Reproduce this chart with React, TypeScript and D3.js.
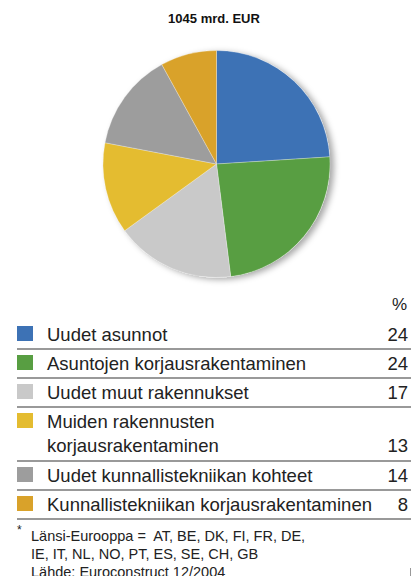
import { useMemo } from 'react'
import * as d3 from 'd3'

// data
const categories = [
  ['Uudet asunnot'],
  ['Asuntojen korjausrakentaminen'],
  ['Uudet muut rakennukset'],
  ['Muiden rakennusten', 'korjausrakentaminen'],
  ['Uudet kunnallistekniikan kohteet'],
  ['Kunnallistekniikan korjausrakentaminen']
]
const shares = [24, 24, 17, 13, 14, 8]
const colors = ['#3d72b5', '#589e42', '#c9c9c9', '#e4bc30', '#9d9d9d', '#d9a22a']
const title = '1045 mrd. EUR'
const footnotes = [
  'Länsi-Eurooppa =  AT, BE, DK, FI, FR, DE,',
  'IE, IT, NL, NO, PT, ES, SE, CH, GB',
  'Lähde: Euroconstruct 12/2004'
]

const FONT = '"Liberation Sans", Arial, Helvetica, sans-serif'

export default function App() {
  const W = 420
  const H = 576
  const cx = 216.5
  const cy = 164
  const r = 113.5

  const arcs = useMemo(() => {
    const pie = d3.pie<number>().sort(null).value(d => d)
    return pie(shares)
  }, [])
  const arcGen = d3.arc<d3.PieArcDatum<number>>().innerRadius(0).outerRadius(r)

  // legend rows: top of first row, row height grows with wrapped lines
  const rows = useMemo(() => {
    let top = 320
    return categories.map((lines, i) => {
      const h = 29 + (lines.length - 1) * 25
      const row = { lines, value: shares[i], color: colors[i], top, bottom: top + h }
      top += h
      return row
    })
  }, [])

  return (
    <svg width={W} height={H} style={{ position: 'absolute', left: 0, top: 0 }}>
      <defs>
        <filter id="shadow" x="-20%" y="-20%" width="140%" height="140%">
          <feDropShadow dx="4" dy="2" stdDeviation="3" floodColor="#000" floodOpacity="0.35" />
        </filter>
      </defs>
      <rect width={W} height={H} fill="#fff" />

      <text x={214} y={23} textAnchor="middle" fontFamily={FONT} fontWeight="bold" fontSize={13} fill="#111">
        {title}
      </text>

      <g transform={`translate(${cx},${cy})`}>
        <circle r={r} fill="#fff" filter="url(#shadow)" />
        {arcs.map((a, i) => (
          <path key={i} d={arcGen(a) || ''} fill={colors[i]} stroke="#f4f4f4" strokeWidth={0.3} />
        ))}
      </g>

      <text x={407} y={310} textAnchor="end" fontFamily={FONT} fontSize={17} fill="#222">%</text>

      {rows.map((row, i) => (
        <g key={i}>
          <rect x={17} y={row.top + 6} width={16} height={15} fill={row.color} />
          {row.lines.map((l, j) => (
            <text key={j} x={47} y={row.top + 21 + j * 24} fontFamily={FONT} fontSize={18.5} fill="#222">
              {l}
            </text>
          ))}
          <text
            x={408}
            y={row.top + 21 + (row.lines.length - 1) * 24}
            textAnchor="end"
            fontFamily={FONT}
            fontSize={18.5}
            fill="#222"
          >
            {row.value}
          </text>
          <line x1={17} x2={411} y1={row.bottom} y2={row.bottom} stroke="#999" strokeWidth={2} />
        </g>
      ))}

      <text x={17} y={534} fontFamily={FONT} fontSize={12} fill="#222">*</text>
      {footnotes.map((f, i) => (
        <text key={i} x={31} y={541 + i * 18} fontFamily={FONT} fontSize={14.5} fill="#222" style={{ whiteSpace: 'pre' }}>
          {f}
        </text>
      ))}
      <line x1={410.5} x2={410.5} y1={568} y2={576} stroke="#999" strokeWidth={1} />
    </svg>
  )
}
